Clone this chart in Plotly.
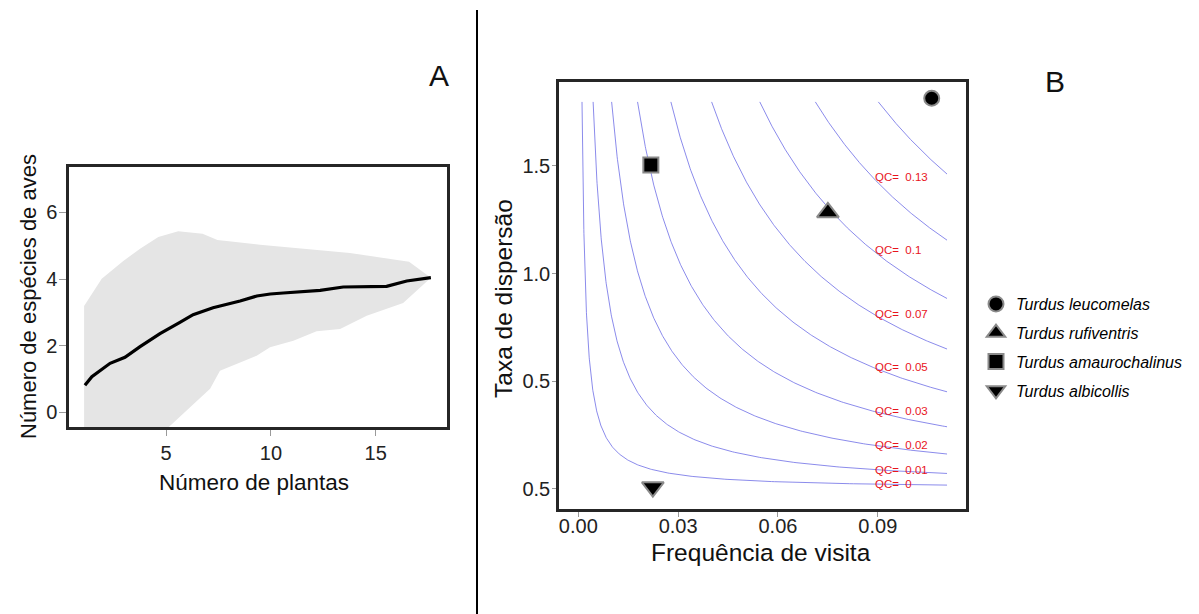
import numpy as np
import plotly.graph_objects as go

# ---------------- Panel A data ----------------
MEAN_X = [1.13, 1.46, 2.33, 3.04, 3.76, 4.71, 5.66, 6.29, 7.24, 8.53, 9.33, 9.97, 10.59, 12.35, 13.45, 15.52, 16.48, 17.63]
MEAN_Y = [0.81, 1.07, 1.47, 1.65, 1.97, 2.36, 2.70, 2.93, 3.14, 3.34, 3.49, 3.55, 3.58, 3.66, 3.76, 3.78, 3.94, 4.04]

UPPER_X = [1.09, 1.93, 2.96, 3.76, 4.63, 5.58, 6.74, 7.45, 9.48, 13.77, 16.59, 17.63]
UPPER_Y = [3.19, 4.01, 4.54, 4.91, 5.26, 5.43, 5.36, 5.17, 5.03, 4.78, 4.52, 4.04]

LOWER_X = [1.09, 5.11, 7.10, 7.57, 7.89, 9.32, 9.96, 11.07, 12.18, 13.30, 14.57, 15.36, 16.31, 17.63]
LOWER_Y = [-2.8, -0.44, 0.71, 1.25, 1.35, 1.70, 1.95, 2.15, 2.43, 2.50, 2.90, 3.07, 3.28, 4.04]

A_XTICKS = [5, 10, 15]
A_YTICKS = [0, 2, 4, 6]

# ---------------- Panel B data ----------------
SPECIES = ["Turdus leucomelas", "Turdus rufiventris", "Turdus amaurochalinus", "Turdus albicollis"]
SYMBOLS = ["circle", "triangle-up", "square", "triangle-down"]
SIZES = [15, 19, 15, 19]
FREQ = [0.1062, 0.0750, 0.0218, 0.0224]
RATE = [1.814, 1.284, 1.504, 0.009]

QC_LEVELS = [0.002, 0.008, 0.018, 0.032, 0.05, 0.072, 0.098, 0.128, 0.162]
QC_LABELLED = [True, True, True, True, True, True, True, True, False]
GRID_XMAX = 0.1108
GRID_YMAX = 1.797
LABEL_X = 0.0885

B_XTICKS = [0.0, 0.03, 0.06, 0.09]
B_XTICKTEXT = ["0.00", "0.03", "0.06", "0.09"]
B_YTICKS = [0.0, 0.5, 1.0, 1.5]
B_YTICKTEXT = ["0.5", "0.5", "1.0", "1.5"]

FONT = "Liberation Sans, Arial, sans-serif"
W, H = 1199, 614

fig = go.Figure()

# band
fig.add_trace(go.Scatter(
    x=UPPER_X + LOWER_X[::-1], y=UPPER_Y + LOWER_Y[::-1],
    fill="toself", fillcolor="#e5e5e5", line=dict(width=0),
    mode="lines", showlegend=False, hoverinfo="skip", xaxis="x", yaxis="y"))
# mean
fig.add_trace(go.Scatter(
    x=MEAN_X, y=MEAN_Y, mode="lines", line=dict(color="black", width=3.2),
    showlegend=False, xaxis="x", yaxis="y"))

# contour isolines QC = freq * rate
for c, lab in zip(QC_LEVELS, QC_LABELLED):
    xs = np.geomspace(c / GRID_YMAX, GRID_XMAX, 300)
    ys = c / xs
    fig.add_trace(go.Scatter(
        x=xs, y=ys, mode="lines", line=dict(color="rgba(100,100,228,0.75)", width=1),
        showlegend=False, hoverinfo="skip", xaxis="x2", yaxis="y2"))
    if lab:
        txt = f"{round(c, 2):g}"
        fig.add_annotation(x=LABEL_X, y=c / LABEL_X, xref="x2", yref="y2",
                           text=f"QC=&nbsp;&nbsp;{txt}", showarrow=False,
                           xanchor="left", yanchor="middle",
                           font=dict(family=FONT, size=11.5, color="#e8141c"))

# species points
for i, sp in enumerate(SPECIES):
    fig.add_trace(go.Scatter(
        x=[FREQ[i]], y=[RATE[i]], mode="markers", name=f"<i>{sp}</i>",
        legendgroup=sp,
        marker=dict(symbol=SYMBOLS[i], size=SIZES[i], color="black",
                    line=dict(color="#8a8a8a", width=2)),
        xaxis="x2", yaxis="y2", cliponaxis=False))

axis_common = dict(showgrid=False, zeroline=False, showline=True, mirror=True,
                   linecolor="#262626", linewidth=2.5, ticks="outside",
                   tickcolor="#9a9a9a", tickwidth=1,
                   tickfont=dict(family=FONT, size=20, color="#222"))

fig.update_layout(
    width=W, height=H, margin=dict(l=0, r=0, t=0, b=0),
    paper_bgcolor="white", plot_bgcolor="white",
    xaxis=dict(domain=[69 / W, 447 / W], range=[0.37, 18.40], tickvals=A_XTICKS,
               ticklen=6, anchor="y", **axis_common),
    yaxis=dict(domain=[(H - 427) / H, (H - 167) / H], range=[-0.44, 7.36], tickvals=A_YTICKS,
               ticklen=7, anchor="x", ticklabelstandoff=-2, **axis_common),
    xaxis2=dict(domain=[559 / W, 966 / W], range=[-0.0058, 0.1165], tickvals=B_XTICKS,
                ticktext=B_XTICKTEXT, ticklen=5, anchor="y2", ticklabelstandoff=-8, **axis_common),
    yaxis2=dict(domain=[(H - 509) / H, (H - 82) / H], range=[-0.0929, 1.8895], tickvals=B_YTICKS,
                ticktext=B_YTICKTEXT, ticklen=4, anchor="x2", ticklabelstandoff=-2, **axis_common),
    legend=dict(x=976 / W, y=(H - 287) / H, xanchor="left", yanchor="top",
                font=dict(family=FONT, size=16, color="#000"),
                tracegroupgap=5, bgcolor="rgba(0,0,0,0)", itemwidth=30),
    showlegend=True,
)

def ann(x, y, text, size, angle=0):
    fig.add_annotation(x=x / W, y=(H - y) / H, xref="paper", yref="paper", text=text,
                       showarrow=False, textangle=angle, xanchor="center", yanchor="middle",
                       font=dict(family=FONT, size=size, color="#111"))

ann(254, 482, "Número de plantas", 22.5)
ann(28, 297, "Número de espécies de aves", 22, -90)
ann(761, 552, "Frequência de visita", 24.5)
ann(503, 299, "Taxa de dispersão", 24.5, -90)
ann(439, 75, "A", 30)
ann(1055, 82, "B", 30)

fig.add_shape(type="line", xref="paper", yref="paper", x0=477 / W, x1=477 / W,
              y0=0, y1=(H - 10) / H, line=dict(color="black", width=2))

fig.write_html("out.html", post_script="document.body.style.margin='0px';",
               config={"displayModeBar": False})
